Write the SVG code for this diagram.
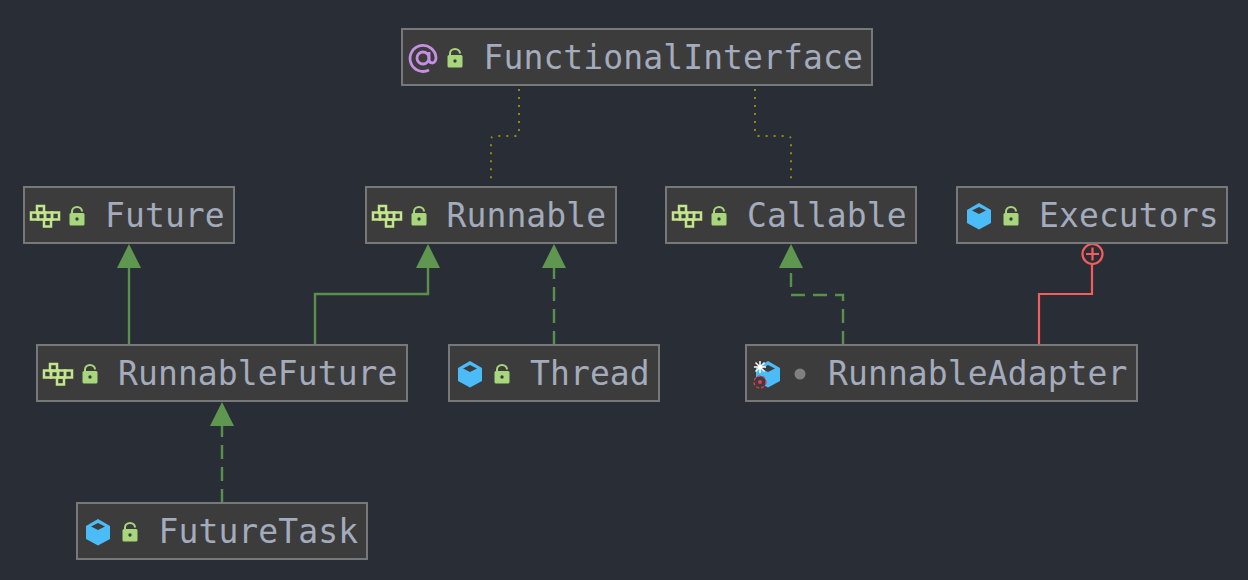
<svg xmlns="http://www.w3.org/2000/svg" width="1248" height="580" viewBox="0 0 1248 580">
<style>
.box{fill:#3c3c3c;stroke:#77787a;stroke-width:2}
.label{font-family:"DejaVu Sans Mono",monospace;font-size:33px;letter-spacing:.1px;fill:#a3abbc}
.line{fill:none;stroke:#5a8f4c;stroke-width:2.4}
.dash{stroke-dasharray:14 8}
.dot{fill:none;stroke:#8c8c0a;stroke-width:2;stroke-dasharray:2 6}
.head{fill:#5f9650}
.red{fill:none;stroke:#f25d5d;stroke-width:2.2}
</style>
<defs>
<g id="lock">
<path d="M-5 -1V-3.500a5 4.500 0 0 1 10 0" fill="none" stroke="#a8d67c" stroke-width="2"/>
<rect x="-7.500" y="-2" width="15" height="12.500" rx="1.500" fill="#a8d67c"/>
<circle cx="0" cy="4" r="1.700" fill="#3c3c3c"/>
</g>
<g id="iface" fill="none" stroke="#c3e68c" stroke-width="2.500">
<rect x="-8" y="-10" width="7" height="7"/>
<rect x="-14" y="-3.500" width="7" height="7"/>
<rect x="-7" y="-3.500" width="7" height="7"/>
<rect x="0" y="-3.500" width="7" height="7"/>
<rect x="7" y="-3.500" width="7" height="7"/>
<rect x="-1" y="3.500" width="7" height="7"/>
</g>
<g id="cube">
<path d="M0 -13L12 -6V7L0 13.500L-12 7V-6Z" fill="#4bbcf7"/>
<path d="M0 -9L7 -5.500L0 -2L-7 -5.500Z" fill="#3c3c3c"/>
</g>
</defs>
<rect width="1248" height="580" fill="#292d36"/>
<g id="connectors">
<path class="dot" d="M519 89V132Q519 136 515 136H495Q491 136 491 140V184"/>
<path class="dot" d="M755 89V132Q755 136 759 136H787Q791 136 791 140V184"/>
<path class="line" d="M129 345V266"/>
<path class="head" d="M129 244L141 268H117Z"/>
<path class="line" d="M315 345V294H428V266"/>
<path class="head" d="M428 244L440 268H416Z"/>
<path class="line dash" d="M554 345V266"/>
<path class="head" d="M554 244L566 268H542Z"/>
<path class="line dash" d="M843 345V295H791V266"/>
<path class="head" d="M791 244L803 268H779Z"/>
<path class="line dash" d="M222 503V424"/>
<path class="head" d="M222 402L234 426H210Z"/>
<path class="red" d="M1039 345V294H1092V264"/>
<circle class="red" cx="1092.500" cy="254" r="10"/>
<path class="red" d="M1086 254H1099M1092.500 247.500V260.500"/>
</g>
<g id="FunctionalInterface">
<rect class="box" x="402" y="29" width="470" height="56"/>
<g fill="none" stroke="#c78fe3" stroke-width="2.800"><circle cx="423" cy="58" r="6"/><path d="M429 52V59.500Q429 63 432.500 63Q436 62 436 57.500A13 13 0 1 0 429 70"/></g>
<use href="#lock" x="455" y="57"/>
<text class="label" x="483.500" y="69">FunctionalInterface</text>
</g>
<g id="Future">
<rect class="box" x="24" y="187" width="210" height="56"/>
<use href="#iface" x="45" y="216"/>
<use href="#lock" x="77" y="215"/>
<text class="label" x="105" y="227">Future</text>
</g>
<g id="Runnable">
<rect class="box" x="366" y="187" width="250" height="56"/>
<use href="#iface" x="387" y="216"/>
<use href="#lock" x="419" y="215"/>
<text class="label" x="446.500" y="227">Runnable</text>
</g>
<g id="Callable">
<rect class="box" x="666" y="187" width="250" height="56"/>
<use href="#iface" x="687" y="216"/>
<use href="#lock" x="719" y="215"/>
<text class="label" x="747" y="227">Callable</text>
</g>
<g id="Executors">
<rect class="box" x="957" y="187" width="270" height="56"/>
<use href="#cube" x="979" y="216"/>
<use href="#lock" x="1011" y="215"/>
<text class="label" x="1039" y="227">Executors</text>
</g>
<g id="RunnableFuture">
<rect class="box" x="37" y="345" width="370" height="56"/>
<use href="#iface" x="58" y="374"/>
<use href="#lock" x="90" y="373"/>
<text class="label" x="118" y="385">RunnableFuture</text>
</g>
<g id="Thread">
<rect class="box" x="449" y="345" width="210" height="56"/>
<use href="#cube" x="470" y="374"/>
<use href="#lock" x="502" y="373"/>
<text class="label" x="530" y="385">Thread</text>
</g>
<g id="RunnableAdapter">
<rect class="box" x="746" y="345" width="391" height="56"/>
<use href="#cube" x="768" y="374"/>
<circle cx="760" cy="382" r="6" fill="#3c3c3c" stroke="#e5395a" stroke-width="1.400" stroke-dasharray="3 2"/>
<circle cx="760" cy="382" r="2" fill="#e5395a"/>
<g stroke="#fff" stroke-width="1.500"><path d="M760 361V373M754 367H766M755.500 362.500L764.500 371.500M764.500 362.500L755.500 371.500"/></g>
<circle cx="800" cy="374" r="5.500" fill="#808080"/>
<text class="label" x="828" y="385">RunnableAdapter</text>
</g>
<g id="FutureTask">
<rect class="box" x="77" y="503" width="290" height="56"/>
<use href="#cube" x="98" y="532"/>
<use href="#lock" x="130" y="531"/>
<text class="label" x="158.500" y="543">FutureTask</text>
</g>
</svg>
